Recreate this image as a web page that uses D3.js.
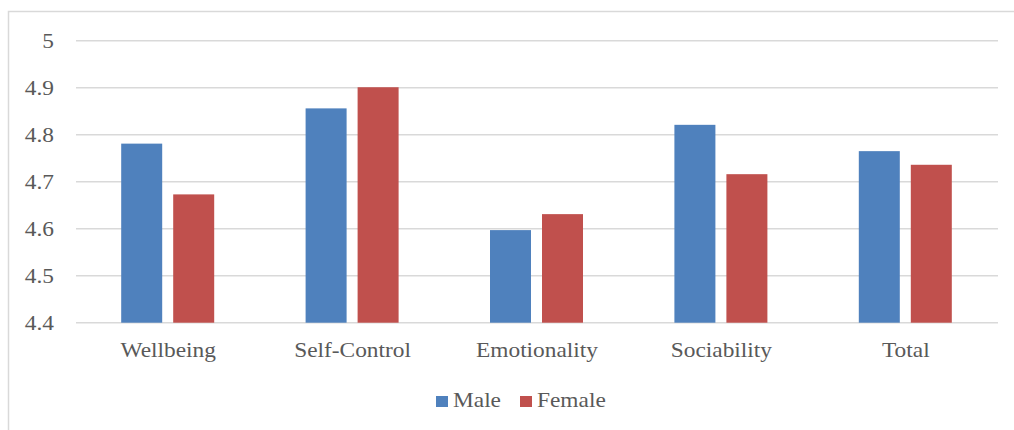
<!DOCTYPE html>
<html><head><meta charset="utf-8">
<script src="https://cdn.jsdelivr.net/npm/d3@7"></script>
<style>body{margin:0;background:#fff}svg{display:block}
text{font-family:'Liberation Serif','Times New Roman',serif;fill:#595959}</style>
</head><body>
<script>
const categories = ["Wellbeing","Self-Control","Emotionality","Sociability","Total"];
const seriesNames = ["Male","Female"];
const maleValues = [4.781, 4.856, 4.597, 4.821, 4.765];
const femaleValues = [4.673, 4.901, 4.631, 4.716, 4.736];
const yTicks = [4.4, 4.5, 4.6, 4.7, 4.8, 4.9, 5];
const colors = ["#4f81bd", "#c0504d"];

const W = 1014, H = 430;
const FS = 20.5, SX = 1.14;
const svg = d3.select("body").append("svg").attr("width", W).attr("height", H);
svg.append("rect").attr("x", 8.5).attr("y", 11.5).attr("width", 1020).attr("height", 430)
  .attr("fill", "none").attr("stroke", "#d9d9d9").attr("stroke-width", 1.5);

const pLeft = 76, pRight = 998, pTop = 40.7, pBottom = 322.7;
const x = d3.scaleBand().domain(categories).range([pLeft, pRight]);
const y = d3.scaleLinear().domain([4.4, 5]).range([pBottom, pTop]);

const grid = svg.append("g");
grid.selectAll("line").data(yTicks).join("line")
  .attr("x1", pLeft).attr("x2", pRight)
  .attr("y1", d => y(d)).attr("y2", d => y(d))
  .attr("stroke", "#d9d9d9").attr("stroke-width", 1.5);

const yAxis = d3.axisLeft(y).tickValues(yTicks).tickSize(0).tickPadding(0).tickFormat(d3.format("~g"));
const ya = svg.append("g").attr("transform", `translate(54,0)`).call(yAxis)
  .attr("font-family", null).attr("font-size", null);
ya.select(".domain").remove();
ya.selectAll("text").style("font-size", FS + "px").attr("fill", null)
  .attr("transform", `scale(${SX},1)`);

const bw = 41, gap = 11;
const data = categories.map((c, i) => ({c, vals: [maleValues[i], femaleValues[i]]}));
const groups = svg.append("g").selectAll("g").data(data).join("g");
groups.selectAll("rect").data(d => d.vals.map((v, k) => ({c: d.c, v, k}))).join("rect")
  .attr("x", d => x(d.c) + x.bandwidth()/2 - (bw + gap/2) + d.k * (bw + gap) - 0.5)
  .attr("y", d => y(d.v))
  .attr("width", bw)
  .attr("height", d => y(4.4) - y(d.v))
  .attr("fill", d => colors[d.k]);

const xAxis = d3.axisBottom(x).tickSize(0).tickPadding(0);
const xa = svg.append("g").attr("transform", `translate(0,357)`).call(xAxis)
  .attr("font-family", null).attr("font-size", null);
xa.select(".domain").remove();
xa.selectAll("text").style("font-size", FS + "px").attr("fill", null).attr("dy", null).attr("y", 0)
  .attr("transform", `scale(${SX},1)`);

const legend = svg.append("g").attr("transform", "translate(0,407)");
const items = [{n: seriesNames[0], x: 436}, {n: seriesNames[1], x: 520}];
items.forEach((it, k) => {
  legend.append("rect").attr("x", it.x).attr("y", -11).attr("width", 12).attr("height", 11).attr("fill", colors[k]);
  legend.append("text").attr("transform", `translate(${it.x + 17},0) scale(${SX},1)`)
    .style("font-size", FS + "px").text(it.n);
});
</script>
</body></html>
